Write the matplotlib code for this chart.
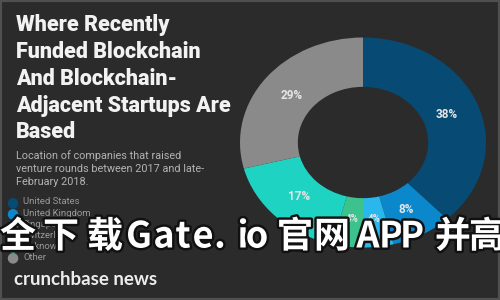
import matplotlib
matplotlib.use("Agg")
import matplotlib.pyplot as plt
import matplotlib.patheffects as pe
from matplotlib.patches import Rectangle

# chart data
countries = ["United States", "United Kingdom", "Singapore", "Switzerland", "Unknown", "Other"]
shares = [38, 8, 4, 4, 17, 29]
colors = ["#074a73", "#0b87cc", "#2ab8ec", "#3cc38d", "#1fd3c2", "#8a8a8a"]

title_lines = ["Where Recently", "Funded Blockchain", "And Blockchain-",
               "Adjacent Startups Are", "Based"]
subtitle_lines = ["Location of companies that raised",
                  "venture rounds between 2017 and late-",
                  "February 2018."]
brand = "crunchbase news"
banner_chars = list("全下载Gate.io官网APP并高")
# glyph centres of the overlay text, in pixels from the left
banner_x = [18, 61, 105, 139, 164, 183, 203, 220, 243, 257, 295, 332, 368, 391, 412, 453, 487]

BG = "#2b2b2b"
W, H = 500, 300

fig = plt.figure(figsize=(5, 3), dpi=100)
fig.patch.set_facecolor(BG)

# frame around the card
fig.patches.append(Rectangle((0, 0), 1, 1, transform=fig.transFigure,
                             facecolor="none", edgecolor="#505050", linewidth=3))

# donut
ax = fig.add_axes([0.48, 0.175, 0.492, 0.70])
wedges, texts, autotexts = ax.pie(
    shares, colors=colors, startangle=90, counterclock=False,
    radius=1.0, wedgeprops=dict(width=0.47, linewidth=0),
    autopct="%d%%", pctdistance=0.73,
    textprops=dict(color="#e6e6e6", fontsize=8.5, fontweight="bold", family="Roboto"),
)
for t, s in zip(autotexts, shares):
    if s < 5:
        t.set_fontsize(7)
ax.set_aspect("auto")
ax.set_xlim(-1, 1)
ax.set_ylim(-1, 1)
ax.set_facecolor("none")

# left text block
y = 0.915
for line in title_lines:
    fig.text(0.032, y, line, color="#f2f2f2", fontsize=15.5, fontweight="heavy",
             family="Roboto", va="center", ha="left")
    y -= 0.089

y = 0.48
for line in subtitle_lines:
    fig.text(0.032, y, line, color="#b3b3b3", fontsize=7.8, family="Roboto",
             va="center", ha="left")
    y -= 0.043

y = 0.327
for name, c in zip(countries, colors):
    fig.text(0.024, y, "\u25CF", color=c, fontsize=10, va="center", ha="center",
             family="DejaVu Sans")
    fig.text(0.046, y, name, color="#999999", fontsize=6.8, family="Roboto",
             va="center", ha="left")
    y -= 0.037

fig.text(0.028, 0.067, brand, color="#ececec", fontsize=13.5, fontweight="bold",
         family="Lato", va="center", ha="left")

# overlay banner, one glyph at a time
for ch, x in zip(banner_chars, banner_x):
    fig.text(x / W, 1 - 237 / H, ch, color="white", fontsize=26, fontweight="bold",
             family=["Noto Sans CJK SC", "DejaVu Sans"], va="center", ha="center",
             path_effects=[pe.withStroke(linewidth=3.5, foreground="#111111")])

fig.savefig("out.png", dpi=100, facecolor=BG)
